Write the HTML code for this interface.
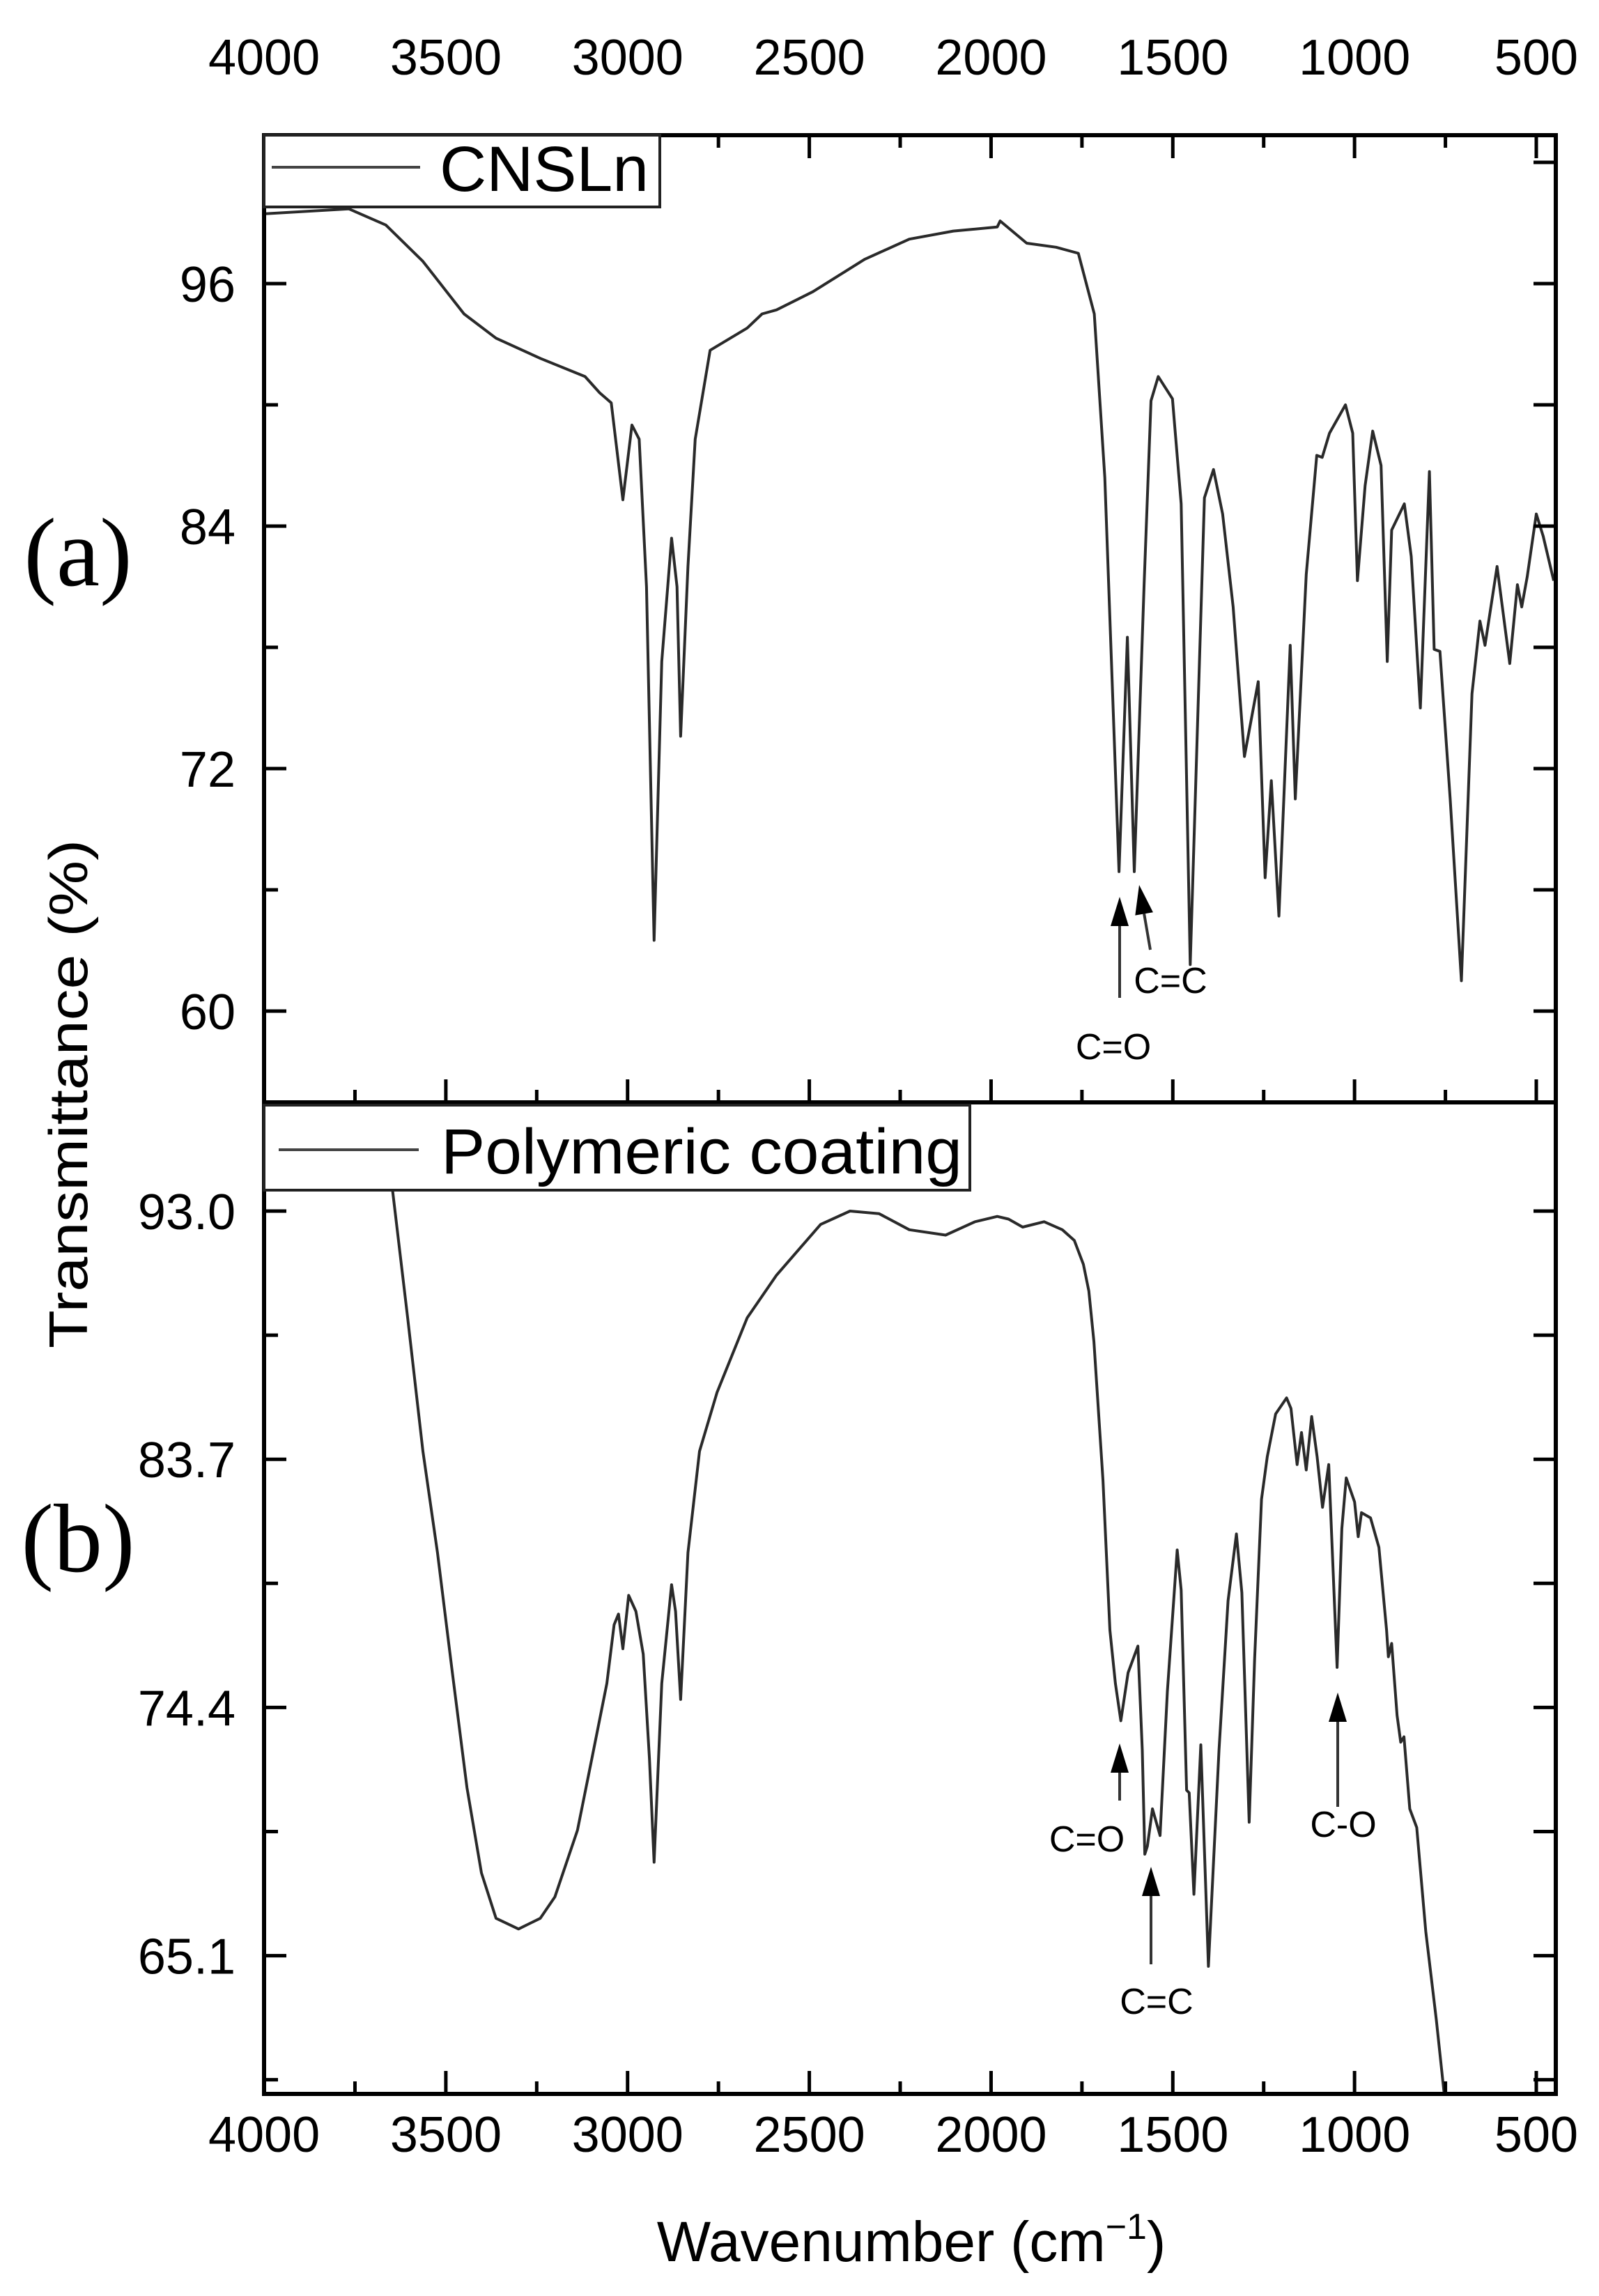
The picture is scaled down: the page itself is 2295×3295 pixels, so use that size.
<!DOCTYPE html>
<html><head><meta charset="utf-8">
<style>
html,body{margin:0;padding:0;background:#fff;}
svg{display:block;}
text{font-family:"Liberation Sans",Arial,sans-serif;fill:#000;}
</style></head>
<body>
<svg id="chart" width="2295" height="3295" viewBox="0 0 2295 3295" xmlns="http://www.w3.org/2000/svg">
<rect x="0" y="0" width="2295" height="3295" fill="#fff"/>
<g id="layer"></g>
</svg>
<script>
// ---- data ----
const xTicks = [4000,3500,3000,2500,2000,1500,1000,500];
const yTicksA = [60,72,84,96];
const yTickLabelsA = ["60","72","84","96"];
const yTicksB = [65.1,74.4,83.7,93.0];
const yTickLabelsB = ["65.1","74.4","83.7","93.0"];
const wnA = [4000,3767,3665,3563,3450,3362,3240,3117,3077,3045,3013,2988,2968,2948,2927,2906,2879,2864,2854,2834,2814,2773,2671,2630,2590,2490,2348,2225,2104,1983,1975,1902,1821,1760,1716,1687,1648,1625,1606,1579,1560,1540,1501,1477,1452,1413,1388,1363,1334,1303,1265,1246,1229,1208,1177,1163,1133,1104,1089,1069,1025,1005,992,971,950,927,910,898,863,844,819,794,781,765,737,706,677,655,641,608,573,552,540,525,500,481,452];
const tA = [99.45,99.7,98.9,97.1,94.5,93.3,92.3,91.4,90.6,90.1,85.3,89.0,88.3,81,63.5,77.3,83.4,81,73.6,82,88.3,92.7,93.8,94.5,94.7,95.6,97.2,98.2,98.6,98.8,99.1,98,97.8,97.5,94.5,86.4,66.9,78.5,66.9,81.1,90.2,91.4,90.3,85.1,62.3,85.4,86.8,84.6,80,72.6,76.3,66.6,71.4,64.7,78.1,70.5,81.6,87.5,87.4,88.6,90,88.6,81.3,86,88.7,87,77.3,83.8,85.1,82.5,75,86.7,77.9,77.8,70.5,61.5,75.7,79.3,78.1,82,77.2,81.1,80,81.5,84.6,83.5,81.3];
const wnB = [3665,3652,3605,3563,3523,3483,3442,3402,3362,3300,3240,3200,3138,3098,3057,3037,3025,3013,2997,2977,2957,2940,2927,2906,2879,2868,2854,2834,2802,2754,2671,2590,2469,2388,2308,2225,2125,2044,1983,1952,1913,1854,1804,1771,1746,1731,1717,1692,1673,1658,1643,1623,1596,1584,1577,1570,1556,1535,1515,1488,1477,1462,1455,1442,1423,1402,1373,1348,1325,1310,1290,1275,1256,1240,1217,1187,1175,1158,1146,1133,1118,1103,1088,1071,1048,1035,1023,1000,990,981,956,933,912,907,898,883,873,864,848,829,804,775,754];
const tB = [97.05,94.4,89,84,80.2,75.8,71.4,68.2,66.5,66.1,66.5,67.3,69.8,72.5,75.3,77.5,77.9,76.6,78.6,78,76.4,72.5,68.6,75.3,79,78,74.7,80.2,84,86.2,89,90.6,92.5,93.0,92.9,92.3,92.1,92.6,92.8,92.7,92.4,92.6,92.3,91.9,91,90,88.1,82.9,77.3,75.3,73.9,75.7,76.7,72.8,68.9,69.2,70.6,69.6,75,80.3,78.8,71.3,71.2,67.4,73,64.7,72.8,78.4,80.9,78.7,70.1,76.2,82.2,83.8,85.4,86.0,85.6,83.5,84.7,83.3,85.3,83.8,81.9,83.5,75.9,81.1,83,82.1,80.8,81.7,81.5,80.4,77.3,76.3,76.8,74.1,73.1,73.3,70.6,69.9,66,62.7,60.0];

// ---- layout ----
const L=379, R=2233, TA=194, MID=1582, BOT=3005;
const NS="http://www.w3.org/2000/svg";
const layer=document.getElementById('layer');
function xs(w){return 2205-(w-500)*0.5217;}
function ysA(v){return 407+(96-v)*29;}
function ysB(v){return 1738+(93-v)*38.3;}
function mk(tag,attrs,parent){const e=document.createElementNS(NS,tag);for(const k in attrs)e.setAttribute(k,attrs[k]);(parent||layer).appendChild(e);return e;}

const defs=mk('defs',{});
const c1=mk('clipPath',{id:'clipA'},defs);mk('rect',{x:L,y:TA,width:R-L,height:MID-TA},c1);
const c2=mk('clipPath',{id:'clipB'},defs);mk('rect',{x:L,y:MID,width:R-L,height:BOT-MID},c2);

function spectrum(wn,t,ys,clip,name){
  let d='';
  for(let i=0;i<wn.length;i++){d+=(i?'L':'M')+xs(wn[i]).toFixed(1)+','+ys(t[i]).toFixed(1);}
  const p=mk('path',{d:d,fill:'none',stroke:'#2a2a2a','stroke-width':4,'stroke-linejoin':'round','clip-path':'url(#'+clip+')'});
  
  
}
spectrum(wnA,tA,ysA,'clipA','cnsln-spectrum');
spectrum(wnB,tB,ysB,'clipB','polymeric-coating-spectrum');

const f1=mk('rect',{x:L,y:TA,width:R-L,height:MID-TA,fill:'none',stroke:'#000','stroke-width':6});


const f2=mk('rect',{x:L,y:MID,width:R-L,height:BOT-MID,fill:'none',stroke:'#000','stroke-width':6});



function xtick(y,dir){
  for(let w=4000; w>=500; w-=250){
    const major=(w%500===0);const len=major?33:18;const x=xs(w);
    const t=mk('line',{x1:x,y1:y,x2:x,y2:y+dir*len,stroke:'#000','stroke-width':5});
    
    
  }
}
xtick(TA,1); xtick(MID,-1); xtick(BOT,-1);
xTicks.forEach(w=>{
  const a=mk('text',{x:xs(w),y:107,'font-size':72,'text-anchor':'middle'});a.textContent=w;
  
  
  const b=mk('text',{x:xs(w),y:3088,'font-size':72,'text-anchor':'middle'});b.textContent=w;
  
  
});

function yticks(vals,labels,ys,step,lo,hi,name){
  for(let v=vals[0]-step*20; v<=hi+1e-6; v+=step/2){
    if(v<lo-1e-6) continue;
    const y=ys(v); const k=Math.round((v-vals[0])/(step/2));
    const major=(k%2===0); const len=major?32:20;
    const t1=mk('line',{x1:L,y1:y,x2:L+len,y2:y,stroke:'#000','stroke-width':5});
    
    
    const t2=mk('line',{x1:R,y1:y,x2:R-32,y2:y,stroke:'#000','stroke-width':5});
    
    
  }
  vals.forEach((v,i)=>{
    const t=mk('text',{x:338,y:ys(v)+26,'font-size':72,'text-anchor':'end'});t.textContent=labels[i];
    
    
  });
}
yticks(yTicksA,yTickLabelsA,ysA,12,55.4,103,'y-tick-label-a');
yticks(yTicksB,yTickLabelsB,ysB,9.3,60,97,'y-tick-label-b');

function legend(x2,y1,y2,lx1,lx2,ly,tx,txt,tl,name){
  const g=mk('g',{});
  
  
  mk('rect',{x:L,y:y1,width:x2-L,height:y2-y1,fill:'#fff',stroke:'#222','stroke-width':4},g);
  mk('line',{x1:lx1,y1:ly,x2:lx2,y2:ly,stroke:'#444','stroke-width':4},g);
  const t=mk('text',{x:tx,y:ly+34,'font-size':92,textLength:tl,lengthAdjust:'spacingAndGlyphs'},g);t.textContent=txt;
}
legend(947,194,297,390,603,240,631,'CNSLn',300,'legend-cnsln');
legend(1392,1586,1708,400,601,1650,633,'Polymeric coating',748,'legend-polymeric-coating');

function arrow(x1,y1,x2,y2,name){
  const g=mk('g',{});
  
  
  const ang=Math.atan2(y2-y1,x2-x1);const hl=42,hw=13;
  const bx=x2-hl*Math.cos(ang),by=y2-hl*Math.sin(ang);
  mk('line',{x1:x1,y1:y1,x2:bx,y2:by,stroke:'#333','stroke-width':4},g);
  const px=-Math.sin(ang)*hw,py=Math.cos(ang)*hw;
  mk('polygon',{points:`${x2},${y2} ${bx+px},${by+py} ${bx-px},${by-py}`,fill:'#000'},g);
}
function label(x,y,txt,name){
  const t=mk('text',{x:x,y:y,'font-size':52,'text-anchor':'middle'});t.textContent=txt;
  
  
}
arrow(1607,1432,1607,1287,'arrow-co-a');
label(1598,1520,'C=O','label-co-a');
arrow(1651,1363,1635,1270,'arrow-cc-a');
label(1680,1425,'C=C','label-cc-a');
arrow(1607,2584,1607,2502,'arrow-co-b');
label(1560,2657,'C=O','label-co-b');
arrow(1652,2819,1652,2679,'arrow-cc-b');
label(1660,2890,'C=C','label-cc-b');
arrow(1920,2593,1920,2429,'arrow-c-o-b');
label(1928,2636,'C-O','label-c-o-b');

const yt=mk('text',{x:0,y:0,'font-size':78,'text-anchor':'middle',transform:'translate(125,1570) rotate(-90)',textLength:730,lengthAdjust:'spacingAndGlyphs'});
yt.textContent='Transmittance (%)';


const xt=mk('text',{x:1308,y:3245,'font-size':82,'text-anchor':'middle'});
xt.innerHTML='Wavenumber (cm<tspan dy="-32" font-size="52">−1</tspan><tspan dy="32">)</tspan>';


const pa=mk('text',{x:112,y:840,'font-size':140,'text-anchor':'middle'});pa.textContent='(a)';
pa.setAttribute('style','font-family:"Liberation Serif",serif');


const pb=mk('text',{x:112,y:2255,'font-size':140,'text-anchor':'middle'});pb.textContent='(b)';
pb.setAttribute('style','font-family:"Liberation Serif",serif');


</script>
</body></html>
